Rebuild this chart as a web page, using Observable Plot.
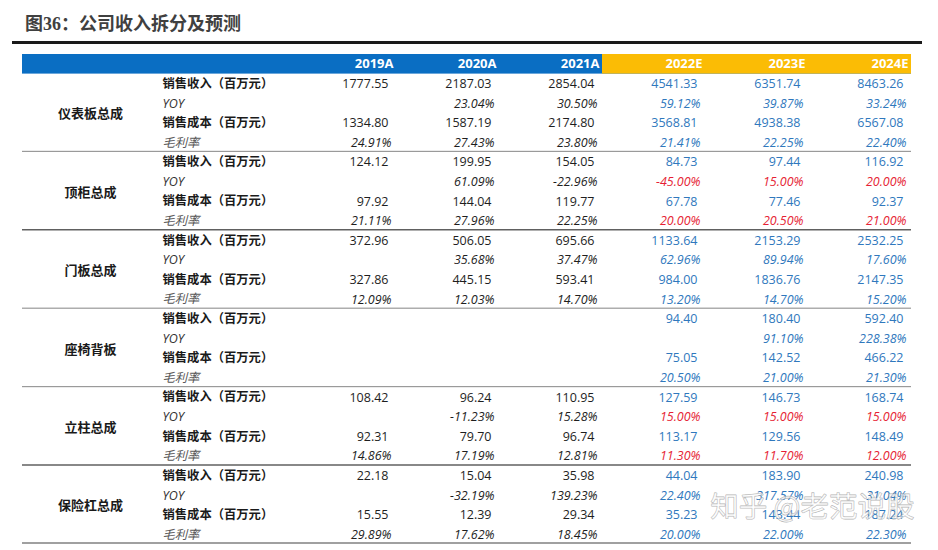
<!DOCTYPE html>
<html><head><meta charset="utf-8">
<script src="https://cdn.jsdelivr.net/npm/d3@7"></script>
<script src="https://cdn.jsdelivr.net/npm/@observablehq/plot@0.6"></script>
<style>
body{margin:0;background:#fff;width:938px;height:550px;overflow:hidden;}
#title{margin:0 16px 0 12px;padding:4px 0 0 13px;height:37px;line-height:41px;border-bottom:3px solid #1a1a1a;font-family:"Liberation Serif","Noto Sans CJK SC",serif;font-size:18px;font-weight:700;color:#404040;}
#chart svg{display:block;}
</style></head><body>
<div id="title">图36：公司收入拆分及预测</div>
<div id="chart"></div>
<script>
const years = ["2019A","2020A","2021A","2022E","2023E","2024E"];
const segments = ["仪表板总成","顶柜总成","门板总成","座椅背板","立柱总成","保险杠总成"];
const metrics = ["销售收入（百万元）","YOY","销售成本（百万元）","毛利率"];

const dashboardRevenue = [1777.55, 2187.03, 2854.04, 4541.33, 6351.74, 8463.26];
const dashboardYoy     = [null, 23.04, 30.50, 59.12, 39.87, 33.24];
const dashboardCost    = [1334.80, 1587.19, 2174.80, 3568.81, 4938.38, 6567.08];
const dashboardMargin  = [24.91, 27.43, 23.80, 21.41, 22.25, 22.40];

const topCabinetRevenue = [124.12, 199.95, 154.05, 84.73, 97.44, 116.92];
const topCabinetYoy     = [null, 61.09, -22.96, -45.00, 15.00, 20.00];
const topCabinetCost    = [97.92, 144.04, 119.77, 67.78, 77.46, 92.37];
const topCabinetMargin  = [21.11, 27.96, 22.25, 20.00, 20.50, 21.00];

const doorRevenue = [372.96, 506.05, 695.66, 1133.64, 2153.29, 2532.25];
const doorYoy     = [null, 35.68, 37.47, 62.96, 89.94, 17.60];
const doorCost    = [327.86, 445.15, 593.41, 984.00, 1836.76, 2147.35];
const doorMargin  = [12.09, 12.03, 14.70, 13.20, 14.70, 15.20];

const seatRevenue = [null, null, null, 94.40, 180.40, 592.40];
const seatYoy     = [null, null, null, null, 91.10, 228.38];
const seatCost    = [null, null, null, 75.05, 142.52, 466.22];
const seatMargin  = [null, null, null, 20.50, 21.00, 21.30];

const pillarRevenue = [108.42, 96.24, 110.95, 127.59, 146.73, 168.74];
const pillarYoy     = [null, -11.23, 15.28, 15.00, 15.00, 15.00];
const pillarCost    = [92.31, 79.70, 96.74, 113.17, 129.56, 148.49];
const pillarMargin  = [14.86, 17.19, 12.81, 11.30, 11.70, 12.00];

const bumperRevenue = [22.18, 15.04, 35.98, 44.04, 183.90, 240.98];
const bumperYoy     = [null, -32.19, 139.23, 22.40, 317.57, 31.04];
const bumperCost    = [15.55, 12.39, 29.34, 35.23, 143.44, 187.24];
const bumperMargin  = [29.89, 17.62, 18.45, 20.00, 22.00, 22.30];

// rows whose forecast values are assumptions (shown in red)
const assumptionRows = [["顶柜总成","YOY"],["顶柜总成","毛利率"],["立柱总成","YOY"],["立柱总成","毛利率"]];
const watermark = "知乎 @老范说股";

const series = [
  [dashboardRevenue, dashboardYoy, dashboardCost, dashboardMargin],
  [topCabinetRevenue, topCabinetYoy, topCabinetCost, topCabinetMargin],
  [doorRevenue, doorYoy, doorCost, doorMargin],
  [seatRevenue, seatYoy, seatCost, seatMargin],
  [pillarRevenue, pillarYoy, pillarCost, pillarMargin],
  [bumperRevenue, bumperYoy, bumperCost, bumperMargin]
];

const BLUE_HDR = "#0a6ec3", GOLD = "#fbbc05", EST = "#2f78bd", RED = "#e61e35", ACT = "#1e1e1e";

const rows = [];
segments.forEach((seg, gi) => metrics.forEach((m, mi) => rows.push({id: `${gi}-${mi}`, seg, metric: m, gi, mi})));
const cells = [];
rows.forEach(r => series[r.gi][r.mi].forEach((v, yi) => {
  if (v == null) return;
  const est = years[yi].endsWith("E");
  const red = est && assumptionRows.some(([s, m]) => s === r.seg && m === r.metric);
  cells.push({row: r.id, year: years[yi], pct: r.mi % 2 === 1,
    label: r.mi % 2 === 1 ? v.toFixed(2) + "%" : v.toFixed(2),
    color: red ? RED : est ? EST : ACT});
}));

const rowH = (500 - 10) / 25;
const cjk = "'Noto Sans CJK SC', sans-serif";
const num = "'Open Sans', 'Noto Sans', sans-serif";

const chart = Plot.plot({
  width: 938, height: 506,
  marginLeft: 22, marginRight: 27, marginTop: 10, marginBottom: 6,
  x: {type: "band", domain: years, range: [293, 911], padding: 0, round: false, axis: null},
  y: {type: "band", domain: ["header", ...rows.map(r => r.id)], range: [10, 500], padding: 0, round: false, axis: null},
  color: {type: "identity"},
  style: {fontFamily: num, background: "#fff"},
  marks: [
    Plot.cell(["header"], {y: d => d, fill: BLUE_HDR}),
    Plot.cell(years.filter(y => y.endsWith("E")), {x: d => d, y: () => "header", fill: GOLD}),
    Plot.text(years, {x: d => d, y: () => "header", text: d => d, textAnchor: "end", dx: 48.5, fill: "white", fontWeight: "bold", fontSize: 13}),
    // separators
    Plot.cell(segments.slice(0, -1), {y: (d, i) => `${i}-3`, fill: (d, i) => (i === 1 || i === 4) ? "#3a3a3a" : "#9a9a9a", insetTop: rowH - 1.2}),
    Plot.cell([segments[segments.length - 1]], {y: () => `${segments.length - 1}-3`, fill: "#a0a0a0", insetTop: rowH - 2}),
    // group labels
    Plot.text(segments, {y: (d, i) => `${i}-1`, dy: rowH / 2 + 1, text: d => d, frameAnchor: "left", dx: 68, textAnchor: "middle", fontFamily: cjk, fontWeight: "bold", fontSize: 13, fill: "#1a1a1a"}),
    // metric labels
    Plot.text(rows.filter(r => r.mi % 2 === 0), {y: "id", text: "metric", frameAnchor: "left", dx: 140, textAnchor: "start", fontFamily: cjk, fontWeight: "bold", fontSize: 12.3, fill: "#1a1a1a"}),
    Plot.text(rows.filter(r => r.mi === 1), {y: "id", text: "metric", frameAnchor: "left", dx: 140, textAnchor: "start", fontStyle: "italic", fontSize: 12.5, fill: "#333"}),
    Plot.text(rows.filter(r => r.mi === 3), {y: "id", text: "metric", frameAnchor: "left", dx: 140, textAnchor: "start", fontFamily: cjk, fontStyle: "italic", fontSize: 12.3, fill: "#555"}),
    // values
    Plot.text(cells.filter(c => !c.pct), {x: "year", y: "row", text: "label", fill: "color", textAnchor: "end", dx: 43.5, fontSize: 12.5}),
    Plot.text(cells.filter(c => c.pct), {x: "year", y: "row", text: "label", fill: "color", textAnchor: "end", dx: 46.5, fontSize: 12.5, fontStyle: "italic"}),
    // watermark
    Plot.text([watermark], {text: d => d, frameAnchor: "bottom-right", dx: 3, dy: -28, textAnchor: "end", fontFamily: cjk, fontSize: 28.5, fill: "#ffffff", fillOpacity: 0.55, stroke: "#8c8c8c", strokeWidth: 0.8, strokeOpacity: 0.7})
  ]
});
document.getElementById("chart").appendChild(chart);
</script>
</body></html>
